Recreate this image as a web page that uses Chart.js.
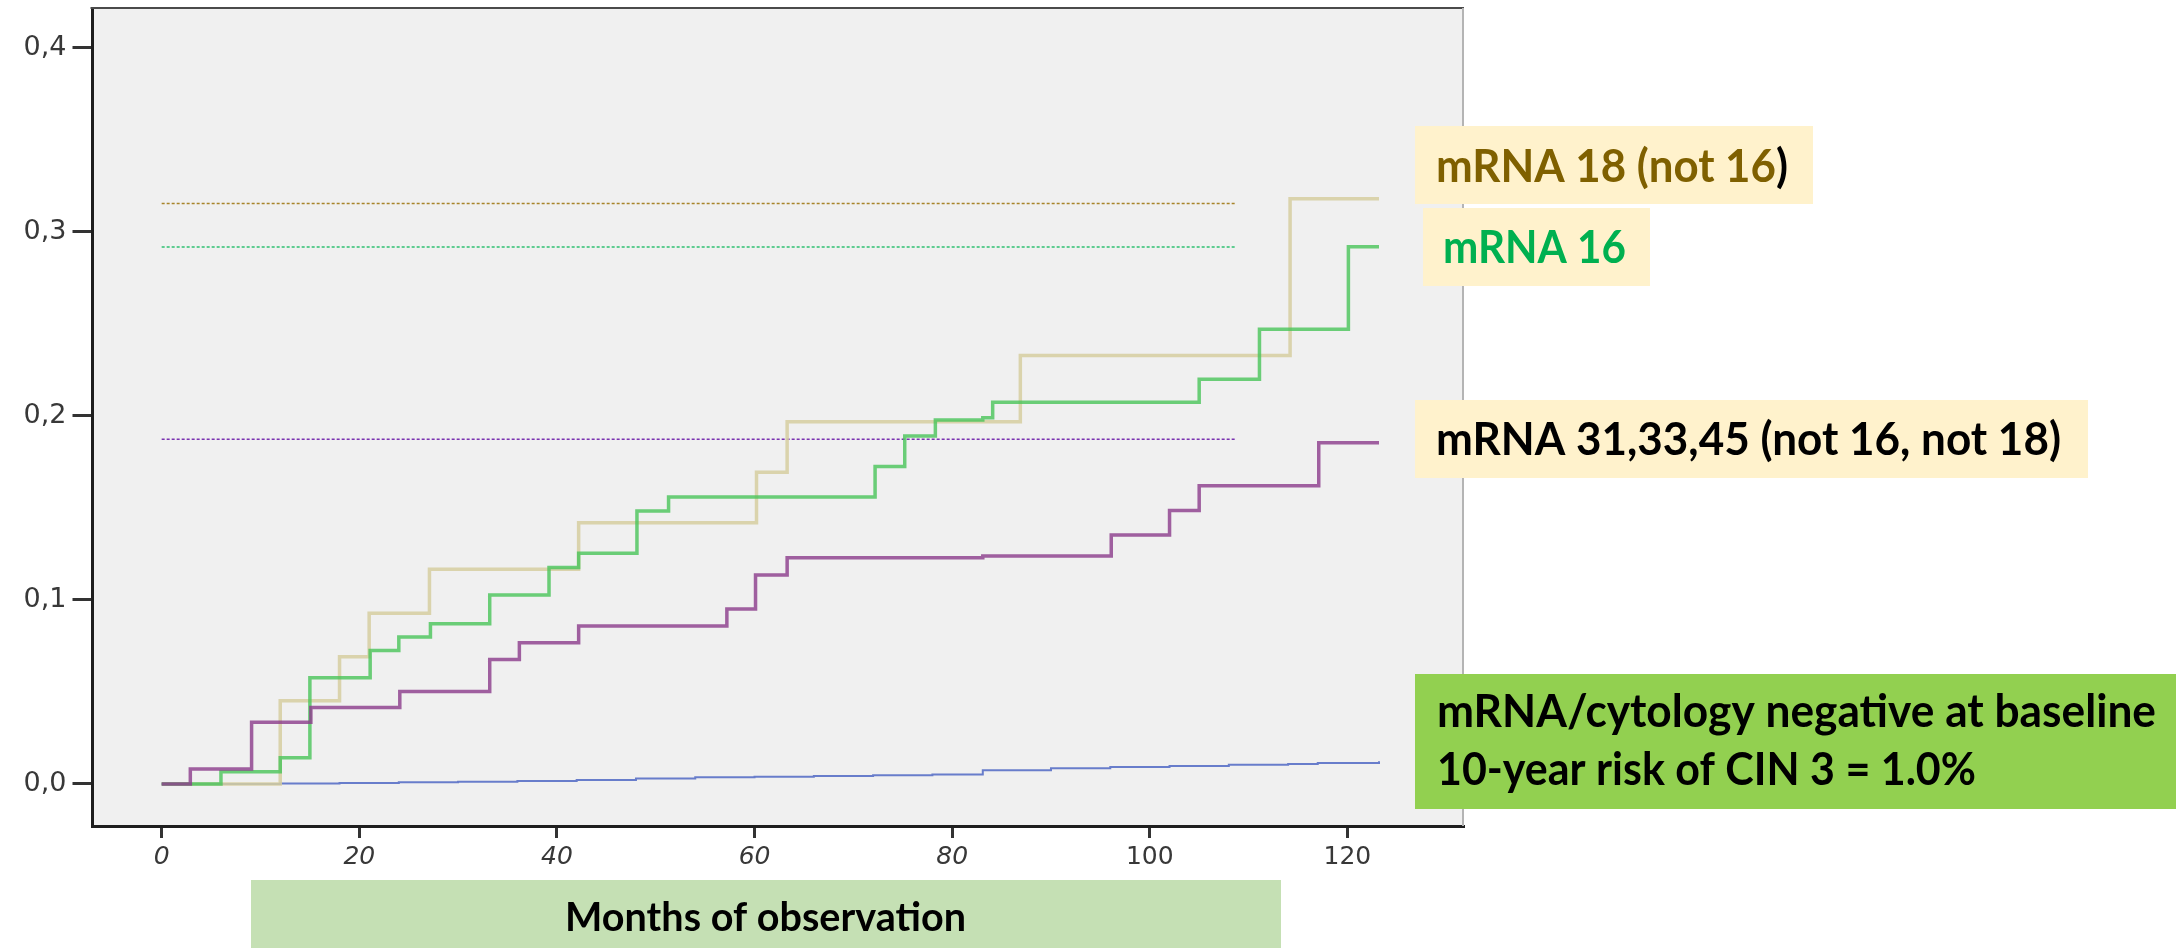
<!DOCTYPE html>
<html>
<head>
<meta charset="utf-8">
<script src="https://cdn.jsdelivr.net/npm/chart.js@4.4.1/dist/chart.umd.min.js"></script>
<style>
  html, body { margin: 0; padding: 0; background: #ffffff; }
  canvas { display: block; }
</style>
</head>
<body>
<canvas id="c" width="2176" height="948"></canvas>
<script>
// ---- Data ----
const months18 = [0, 12, 18, 21, 27.1, 42.2, 60.2, 63.3, 86.9, 114.2, 123.2];
const risk18   = [0, 0.0453, 0.0692, 0.0928, 0.1167, 0.142, 0.1694, 0.1969, 0.2329, 0.3181, 0.3181];

const months16 = [0, 6, 12, 15, 21.1, 24, 27.2, 33.2, 39.2, 42.2, 48.1, 51.3, 72.2, 75.2, 78.3, 83.1, 84.1, 105, 111.1, 120.1, 123.2];
const risk16   = [0, 0.0067, 0.0143, 0.0578, 0.0725, 0.0799, 0.0871, 0.1027, 0.1176, 0.1254, 0.1484, 0.156, 0.1725, 0.1891, 0.1978, 0.199, 0.2074, 0.22, 0.2471, 0.292, 0.292];

const months31 = [0, 2.9, 9.1, 15.1, 24.1, 33.2, 36.2, 42.2, 57.2, 60.1, 63.3, 83.1, 96.1, 102, 105, 117.1, 123.2];
const risk31   = [0, 0.0081, 0.0335, 0.0415, 0.0502, 0.0677, 0.0768, 0.0859, 0.0951, 0.1136, 0.123, 0.1239, 0.1353, 0.1486, 0.1621, 0.1855, 0.1855];

const monthsNeg = [0, 12, 18, 24, 30, 36, 42, 48, 54, 60, 66, 72, 78, 83.1, 90, 96, 102, 108, 114, 117, 123.2];
const riskNeg   = [0, 0.0003, 0.0006, 0.0009, 0.0012, 0.0016, 0.0022, 0.003, 0.0036, 0.004, 0.0044, 0.0047, 0.0052, 0.0075, 0.0085, 0.0092, 0.0098, 0.0104, 0.0109, 0.0114, 0.0123];

const refLevels = [0.3155, 0.2918, 0.1873];   // 18, 16, 31/33/45
const refRange  = [0, 108.6];

const xTicks = [0, 20, 40, 60, 80, 100, 120];
const yTicks = [0, 0.1, 0.2, 0.3, 0.4];

const label18  = ["mRNA 18 (not 16", ")"];
const label16  = "mRNA 16";
const label31  = "mRNA 31,33,45 (not 16, not 18)";
const labelNeg = ["mRNA/cytology negative at baseline", "10-year risk of CIN 3 = 1.0%"];
const xTitle   = "Months of observation";

// ---- Helpers ----
const pts = (xs, ys) => xs.map((x, i) => ({ x: x, y: ys[i] }));
const refPts = v => refRange.map(x => ({ x: x, y: v }));

function fitText(ctx, parts, x, y, targetW, size) {
  ctx.save();
  ctx.font = 'bold ' + size + 'px Lato';
  ctx.textAlign = 'left';
  ctx.textBaseline = 'alphabetic';
  const full = parts.map(p => p[0]).join('');
  const w = ctx.measureText(full).width;
  const s = targetW / w;
  ctx.translate(x, y);
  ctx.scale(s, 1);
  let cx = 0;
  for (const [t, c] of parts) {
    ctx.fillStyle = c;
    ctx.fillText(t, cx, 0);
    cx += ctx.measureText(t).width;
  }
  ctx.restore();
}

const decor = {
  id: 'decor',
  beforeDraw(chart) {
    const { ctx, chartArea: a } = chart;
    ctx.save();
    ctx.fillStyle = '#f0f0f0';
    ctx.fillRect(a.left, a.top, a.right - a.left, a.bottom - a.top);
    ctx.restore();
  },
  afterDraw(chart) {
    const { ctx, chartArea: a } = chart;
    ctx.save();
    // top and right frame
    ctx.strokeStyle = '#4a4a4a';
    ctx.lineWidth = 2;
    ctx.beginPath();
    ctx.moveTo(a.left - 2, a.top);
    ctx.lineTo(a.right, a.top);
    ctx.stroke();
    ctx.strokeStyle = '#b4b4b4';
    ctx.beginPath();
    ctx.moveTo(a.right - 1, a.top);
    ctx.lineTo(a.right - 1, a.bottom);
    ctx.stroke();

    // label boxes
    ctx.fillStyle = '#fff2cc';
    ctx.fillRect(1415, 126, 398, 78);
    ctx.fillRect(1423, 208, 227, 78);
    ctx.fillRect(1415, 400, 673, 78);
    ctx.fillStyle = '#92d050';
    ctx.fillRect(1415, 674, 761, 135);
    ctx.fillStyle = '#c5e0b4';
    ctx.fillRect(251, 880, 1030, 68);

    fitText(ctx, [[label18[0], '#7f6000'], [label18[1], '#000000']], 1436, 182, 352, 45);
    fitText(ctx, [[label16, '#00b050']], 1443, 263, 183, 45);
    fitText(ctx, [[label31, '#000000']], 1436, 455, 625, 45);
    fitText(ctx, [[labelNeg[0], '#000000']], 1437, 727, 719, 45);
    fitText(ctx, [[labelNeg[1], '#000000']], 1437, 785, 539, 45);
    fitText(ctx, [[xTitle, '#000000']], 565, 931, 401, 40);
    ctx.restore();
  }
};

const stepLine = (data, color, width, order) => ({
  data: data,
  borderColor: color,
  borderWidth: width,
  stepped: 'before',
  pointRadius: 0,
  fill: false,
  order: order
});
const refLine = (v, color) => ({
  data: refPts(v),
  borderColor: color,
  borderWidth: 1.5,
  borderDash: [3, 2],
  pointRadius: 0,
  fill: false,
  order: 5
});

new Chart(document.getElementById('c'), {
  type: 'line',
  data: {
    datasets: [
      stepLine(pts(months31, risk31), 'rgba(140,62,140,0.82)', 3.5, 1),
      stepLine(pts(months16, risk16), 'rgba(76,196,92,0.82)', 3.5, 2),
      stepLine(pts(months18, risk18), 'rgba(214,206,160,0.85)', 3.5, 3),
      stepLine(pts(monthsNeg, riskNeg), 'rgba(80,104,196,0.85)', 2, 4),
      refLine(refLevels[0], '#a8842a'),
      refLine(refLevels[1], '#2ec070'),
      refLine(refLevels[2], '#7a32b0')
    ]
  },
  options: {
    responsive: false,
    animation: false,
    devicePixelRatio: 1,
    layout: { padding: { left: 0, top: 8, right: 712, bottom: 0 } },
    plugins: { legend: { display: false }, tooltip: { enabled: false } },
    scales: {
      x: {
        type: 'linear',
        min: -7,
        max: 131.8,
        afterFit: s => { s.height = 122; s.paddingLeft = 0; s.paddingRight = 0; },
        afterBuildTicks: s => { s.ticks = xTicks.map(v => ({ value: v })); },
        ticks: {
          color: '#383838',
          padding: 4,
          maxRotation: 0,
          autoSkip: false,
          font: c => ({ family: 'DejaVu Sans', size: 25, style: (c.tick && c.tick.value < 100) ? 'italic' : 'normal' }),
          callback: v => String(v)
        },
        grid: { drawOnChartArea: false, tickLength: 12, tickWidth: 3, tickColor: '#333333' },
        border: { color: '#1e1e1e', width: 3 }
      },
      y: {
        type: 'linear',
        min: -0.02283,
        max: 0.4217,
        afterFit: s => { s.width = 92.5; s.paddingTop = 0; s.paddingBottom = 0; },
        afterBuildTicks: s => { s.ticks = yTicks.map(v => ({ value: v })); },
        ticks: {
          color: '#383838',
          padding: 6,
          autoSkip: false,
          font: { family: 'DejaVu Sans', size: 27 },
          callback: v => v.toFixed(1).replace('.', ',')
        },
        grid: { drawOnChartArea: false, tickLength: 20, tickWidth: 3, tickColor: '#333333' },
        border: { color: '#1e1e1e', width: 3 }
      }
    }
  },
  plugins: [decor]
});
</script>
</body>
</html>
